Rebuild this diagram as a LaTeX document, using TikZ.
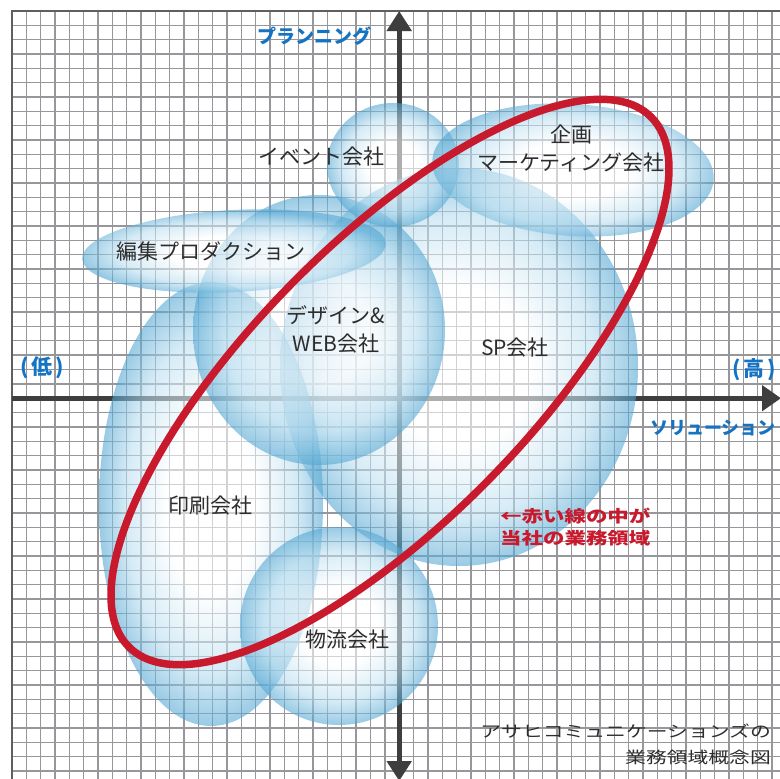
\documentclass[tikz,border=0pt]{standalone}
\usepackage{fontspec}
\setmainfont{Noto Sans CJK JP}
\newfontfamily\jpwide{Noto Sans CJK JP}[FakeStretch=1.3]
\usetikzlibrary{arrows.meta}
\definecolor{gridgray}{RGB}{150,150,155}
\definecolor{bordergray}{RGB}{95,95,95}
\definecolor{axisgray}{RGB}{62,62,62}
\definecolor{labelgray}{RGB}{45,45,45}
\definecolor{jblue}{RGB}{20,115,195}
\definecolor{jred}{RGB}{200,25,45}
\definecolor{bblue}{RGB}{80,165,210}
\definecolor{bblight}{RGB}{185,222,240}
\pgfdeclareradialshading{bubble}{\pgfpoint{0bp}{0bp}}{color(0bp)=(white); color(10bp)=(white); color(19bp)=(bblight); color(25bp)=(bblue); color(50bp)=(bblue)}
\tikzset{
  gridline/.style={draw=gridgray, line width=1.35pt},
  borderline/.style={draw=bordergray, line width=1.5pt},
  axisline/.style={draw=axisgray, line width=5pt},
  bubblefill/.style={shading=bubble, opacity=0.58},
  redring/.style={draw=jred, line width=7.5pt},
  lbl/.style={text=labelgray, font=\fontsize{21}{28}\selectfont, inner sep=0pt, align=center},
  bluelbl/.style={text=jblue, inner sep=0pt},
  redlbl/.style={text=jred, inner sep=0pt, align=left, font=\jpwide\bfseries\fontsize{16.5}{22}\selectfont},
  notelbl/.style={text=labelgray, inner sep=0pt, align=right, font=\jpwide\fontsize{16}{26}\selectfont}
}
\begin{document}
\begin{tikzpicture}[x=1pt,y=-1pt]
\useasboundingbox (0,0) rectangle (780,779);
\fill[white] (0,0) rectangle (780,779);
% grid
\foreach \i in {1,...,53} {
  \draw[gridline] ({12+14.34*\i},11) -- ({12+14.34*\i},779);
  \draw[gridline] (12,{11+14.34*\i}) -- (780,{11+14.34*\i});
}
\draw[borderline] (12,779) -- (12,11) -- (780,11);
% axes
\coordinate (ytop) at (399.2,11);
\coordinate (ybot) at (399.2,781);
\coordinate (xleft) at (12,398.2);
\coordinate (xright) at (781,398.2);
\draw[axisline, {Triangle[width=24pt,length=20pt]}-{Triangle[width=24pt,length=20pt]}] (ybot) -- (ytop);
\draw[axisline, -{Triangle[width=25pt,length=19pt]}] (xleft) -- (xright);
% bubbles
\shade[bubblefill] (459,367) ellipse [x radius=179, y radius=199];
\shade[bubblefill] (211,504) ellipse [x radius=112, y radius=222];
\shade[bubblefill] (319,330) ellipse [x radius=126, y radius=135];
\shade[bubblefill, rotate around={3:(234,251)}] (234,251) ellipse [x radius=152, y radius=41];
\shade[bubblefill] (393,165) ellipse [x radius=66, y radius=62];
\shade[bubblefill, rotate around={-4:(573,170)}] (573,170) ellipse [x radius=141, y radius=66];
\shade[bubblefill] (339,626) ellipse [x radius=99, y radius=99];
% red ring
\draw[redring, rotate around={45.5:(390,382)}] (390,382) ellipse [x radius=372, y radius=139];
% labels
\node[bluelbl, font=\bfseries\fontsize{19}{19}\selectfont] (plan) at (314,36) {プランニング};
\node[bluelbl, font=\bfseries\fontsize{21}{21}\selectfont] (low) at (42,368) {(\hspace{3pt}低\hspace{3pt})};
\node[bluelbl, font=\bfseries\fontsize{21}{21}\selectfont] (high) at (754,370) {(\hspace{3pt}高\hspace{3pt})};
\node[bluelbl, font=\bfseries\fontsize{18}{18}\selectfont] (sol) at (713,428) {ソリューション};
\node[lbl] (event) at (321,157) {イベント会社};
\node[lbl] (kikaku) at (571,149) {企画\\マーケティング会社};
\node[lbl] (henshu) at (211,251) {編集プロダクション};
\node[lbl] (design) at (336,329) {デザイン\&\\WEB会社};
\node[lbl] (sp) at (515,348) {SP会社};
\node[lbl] (insatsu) at (210,506) {印刷会社};
\node[lbl] (butsuryu) at (347,640) {物流会社};
\node[redlbl, anchor=west] (redtext) at (500,527) {←赤い線の中が\\当社の業務領域};
\node[notelbl, anchor=east] (note) at (771,744) {アサヒコミュニケーションズの\\業務領域概念図};
\end{tikzpicture}
\end{document}
